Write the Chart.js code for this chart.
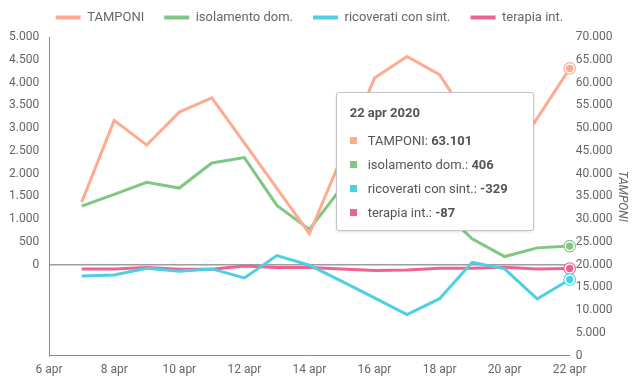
<!DOCTYPE html>
<html>
<head>
<meta charset="utf-8">
<script src="https://cdn.jsdelivr.net/npm/chart.js@4/dist/chart.umd.min.js"></script>
<style>
html,body{margin:0;padding:0;background:#fff;}
#wrap{position:relative;width:644px;height:380px;}
#tip{position:absolute;display:none;box-sizing:border-box;width:198px;background:#fff;border:1px solid #c4c4c4;border-radius:3px;box-shadow:0 1px 3px rgba(0,0,0,0.12);font-family:Roboto,sans-serif;color:#555;font-size:13px;padding:11px 13px 5px 13px;}
#tip .tt{font-weight:bold;line-height:18px;margin-bottom:7px;white-space:nowrap;}
#tip .row{line-height:24px;white-space:nowrap;}
#tip .sq{display:inline-block;width:7px;height:7px;margin-right:11px;vertical-align:middle;position:relative;top:-1px;}
#tip b{font-weight:bold;}
</style>
</head>
<body>
<div id="wrap"><canvas id="c" width="644" height="380"></canvas><div id="tip"></div></div>
<script>
// ---- data ----
const monthLabel = 'apr';
const year = 2020;
const days = [7, 8, 9, 10, 11, 12, 13, 14, 15, 16, 17, 18, 19, 20, 21, 22];
const tamponi = [33713, 51680, 46244, 53495, 56609, 46720, 36717, 26779, 43715, 60999, 65705, 61725, 50708, 41483, 52126, 63101];
const isolamentoDom = [1284, 1542, 1806, 1681, 2231, 2350, 1300, 771, 1700, 2200, 1700, 1250, 566, 176, 367, 406];
const ricoveratiSint = [-249, -227, -81, -147, -95, -293, 198, -15, -370, -730, -1100, -750, 50, -95, -755, -329];
const terapiaInt = [-95, -95, -66, -103, -103, -29, -66, -66, -95, -132, -117, -81, -81, -59, -95, -87];
const seriesNames = ['TAMPONI', 'isolamento dom.', 'ricoverati con sint.', 'terapia int.'];
const xTicks = [6, 8, 10, 12, 14, 16, 18, 20, 22];
const leftTicks = [0, 500, 1000, 1500, 2000, 2500, 3000, 3500, 4000, 4500, 5000];
const leftMin = -2000;
const rightTicks = [0, 5000, 10000, 15000, 20000, 25000, 30000, 35000, 40000, 45000, 50000, 55000, 60000, 65000, 70000];
const hoverIndex = days.length - 1;

// ---- styles ----
const colors = ['#FFAB91', '#81C784', '#4DD0E1', '#F06292'];
const textColor = '#666';

function fmt(n) {
  const s = Math.abs(Math.round(n)).toString().replace(/\B(?=(\d{3})+(?!\d))/g, '.');
  return (n < 0 ? '-' : '') + s;
}

Chart.defaults.font.family = 'Roboto';
Chart.defaults.color = textColor;

function mk(i, values, axis) {
  return {
    label: seriesNames[i],
    data: days.map((d, k) => ({ x: d, y: values[k] })),
    borderColor: colors[i],
    backgroundColor: colors[i],
    borderWidth: 3,
    pointRadius: 0,
    pointHoverRadius: 0,
    pointHitRadius: 4,
    tension: 0,
    fill: false,
    yAxisID: axis
  };
}

const hoverRings = {
  id: 'hoverRings',
  afterDatasetsDraw(chart) {
    const ctx = chart.ctx;
    let act = chart.getActiveElements();
    if (!act.length) act = chart.data.datasets.map((d, i) => ({ datasetIndex: i, index: hoverIndex, element: chart.getDatasetMeta(i).data[hoverIndex] }));
    ctx.save();
    for (let k = act.length - 1; k >= 0; k--) {
      const a = act[k];
      const el = a.element;
      const c = colors[a.datasetIndex];
      ctx.beginPath(); ctx.arc(el.x, el.y, 6.3, 0, Math.PI * 2); ctx.fillStyle = c; ctx.fill();
      ctx.beginPath(); ctx.arc(el.x, el.y, 5.2, 0, Math.PI * 2); ctx.fillStyle = '#fff'; ctx.fill();
      ctx.beginPath(); ctx.arc(el.x, el.y, 3.7, 0, Math.PI * 2); ctx.fillStyle = c; ctx.fill();
    }
    ctx.restore();
  }
};

// center the legend over the plot area (keep its width so wrapping is unchanged)
const legendOverArea = {
  id: 'legendOverArea',
  afterLayout(chart) {
    const lg = chart.legend;
    if (lg && chart.chartArea) {
      const w = lg.right - lg.left;
      const c = (chart.chartArea.left + chart.chartArea.right) / 2;
      lg.left = c - w / 2;
      lg.right = c + w / 2;
    }
  }
};

function externalTip(context) {
  const tip = document.getElementById('tip');
  const t = context.tooltip;
  if (!t || t.opacity === 0 || !t.dataPoints || !t.dataPoints.length) { return; }
  const dp = t.dataPoints.slice().sort((a, b) => a.datasetIndex - b.datasetIndex);
  const day = dp[0].parsed.x;
  let html = '<div class="tt">' + day + ' ' + monthLabel + ' ' + year + '</div>';
  dp.forEach(p => {
    html += '<div class="row"><span class="sq" style="background:' + colors[p.datasetIndex] + '"></span>' +
      seriesNames[p.datasetIndex] + ': <b>' + fmt(p.parsed.y) + '</b></div>';
  });
  tip.innerHTML = html;
  const ch = context.chart;
  const px = ch.scales.x.getPixelForValue(day);
  tip.style.left = (px - 234) + 'px';
  tip.style.top = (ch.chartArea.top + 55) + 'px';
  tip.style.display = 'block';
}

const chart = new Chart(document.getElementById('c'), {
  type: 'line',
  data: {
    datasets: [
      mk(0, tamponi, 'y1'),
      mk(1, isolamentoDom, 'y'),
      mk(2, ricoveratiSint, 'y'),
      mk(3, terapiaInt, 'y')
    ]
  },
  options: {
    responsive: false,
    animation: false,
    interaction: { mode: 'index', intersect: false },
    layout: { padding: { left: -1, right: 12, top: -9, bottom: -4 } },
    plugins: {
      legend: {
        position: 'top',
        labels: {
          boxWidth: 25,
          boxHeight: 4,
          padding: 20,
          font: { size: 13 },
          color: textColor,
          generateLabels(chart) {
            const items = Chart.defaults.plugins.legend.labels.generateLabels(chart);
            items.forEach((it, i) => { it.lineWidth = 0; it.strokeStyle = 'rgba(0,0,0,0)'; it.fillStyle = colors[it.datasetIndex]; });
            return items;
          }
        }
      },
      tooltip: { enabled: false, external: externalTip }
    },
    scales: {
      x: {
        type: 'linear',
        min: xTicks[0],
        max: xTicks[xTicks.length - 1],
        afterBuildTicks(scale) { scale.ticks = xTicks.map(v => ({ value: v })); },
        ticks: { callback: v => v + ' ' + monthLabel, font: { size: 12 }, color: textColor, padding: 7, maxRotation: 0 },
        grid: { drawOnChartArea: false, drawTicks: false },
        border: { display: true, color: '#888', width: 1 }
      },
      y: {
        position: 'left',
        min: leftMin,
        max: leftTicks[leftTicks.length - 1],
        afterBuildTicks(scale) {
          const t = [];
          for (let v = leftMin; v <= leftTicks[leftTicks.length - 1]; v += leftTicks[1] - leftTicks[0]) t.push({ value: v });
          scale.ticks = t;
        },
        ticks: { callback: v => (leftTicks.includes(v) ? fmt(v) : null), font: { size: 12 }, color: textColor, padding: 10 },
        grid: {
          drawTicks: false,
          color: c => (c.tick && c.tick.value === 0 ? '#9e9e9e' : 'rgba(0,0,0,0)'),
          lineWidth: c => (c.tick && c.tick.value === 0 ? 1.5 : 0)
        },
        border: { display: true, color: '#888', width: 1 }
      },
      y1: {
        position: 'right',
        min: rightTicks[0],
        max: rightTicks[rightTicks.length - 1],
        afterBuildTicks(scale) { scale.ticks = rightTicks.map(v => ({ value: v })); },
        ticks: { callback: v => fmt(v), font: { size: 12 }, color: textColor, padding: 6 },
        grid: { drawOnChartArea: false, drawTicks: false },
        border: { display: false },
        title: { display: true, text: seriesNames[0], font: { size: 12, style: 'italic' }, color: textColor, padding: { top: 3, bottom: -4 } }
      }
    }
  },
  plugins: [hoverRings, legendOverArea]
});

// give the legend a little more room below it
const origFit = chart.legend.fit;
chart.legend.fit = function () { origFit.call(this); this.height += 3; };

const act = chart.data.datasets.map((d, i) => ({ datasetIndex: i, index: hoverIndex }));
chart.setActiveElements(act);
chart.update('none');
const el0 = chart.getDatasetMeta(0).data[hoverIndex];
chart.tooltip.setActiveElements(act, { x: el0.x, y: el0.y });
chart.update('none');
</script>
</body>
</html>
